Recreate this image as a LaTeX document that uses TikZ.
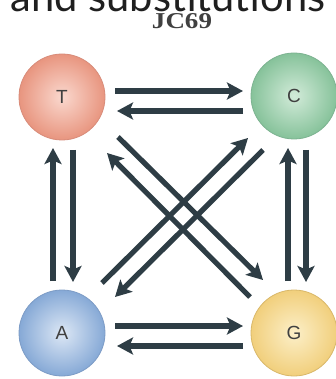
\documentclass[tikz,border=0pt]{standalone}
\usepackage{fontspec}
\setmainfont{Liberation Sans}
\newfontfamily\titlefont{Lato}
\newfontfamily\capfont{Liberation Serif}
\usetikzlibrary{arrows.meta}
\definecolor{arrowc}{HTML}{2E3D45}
\definecolor{tout}{HTML}{E8957F}\definecolor{tin}{HTML}{FAD8CE}\definecolor{tedge}{HTML}{D88C7A}
\definecolor{cout}{HTML}{86C29A}\definecolor{cin}{HTML}{D2EBD9}\definecolor{cedge}{HTML}{7DB391}
\definecolor{aout}{HTML}{86A9D6}\definecolor{ain}{HTML}{DCE7F5}\definecolor{aedge}{HTML}{7D9CC6}
\definecolor{gout}{HTML}{F1CF7C}\definecolor{gin}{HTML}{FCEFC8}\definecolor{gedge}{HTML}{D9B86A}
\begin{document}
\begin{tikzpicture}[x=1pt,y=-1pt,
  base/.style={circle, minimum size=86pt, inner sep=0pt, line width=0.8pt,
    font=\fontsize{19}{21}\selectfont, text=black!75},
  arr/.style={draw=arrowc, line width=5.2pt, -{Stealth[length=16pt,width=17pt,inset=3.5pt]}}]
\useasboundingbox (0,0) rectangle (336,379);
\clip (0,0) rectangle (336,379);
\fill[white] (0,0) rectangle (336,379);
\node[anchor=base, text=black!88, inner sep=0pt] (title) at (168,12)
  {\resizebox{315pt}{!}{\titlefont and substitutions}};
\node[anchor=base, text=black!75, inner sep=0pt] (jc) at (182,29)
  {\resizebox{60pt}{15pt}{\capfont\bfseries JC69}};
\node[base, draw=tedge, inner color=tin, outer color=tout] (T) at (62,97) {T};
\node[base, draw=cedge, inner color=cin, outer color=cout] (C) at (294,96) {C};
\node[base, draw=aedge, inner color=ain, outer color=aout] (A) at (62,333) {A};
\node[base, draw=gedge, inner color=gin, outer color=gout] (G) at (294,333) {G};
% horizontal
\draw[arr] ([shift={(53,-6)}]T.center) -- ([shift={(-51,-5)}]C.center);
\draw[arr] ([shift={(-51,15)}]C.center) -- ([shift={(55,14)}]T.center);
\draw[arr] ([shift={(53,-7)}]A.center) -- ([shift={(-51,-7)}]G.center);
\draw[arr] ([shift={(-51,13)}]G.center) -- ([shift={(55,13)}]A.center);
% vertical
\draw[arr] ([shift={(-9,-52)}]A.center) -- ([shift={(-9,51)}]T.center);
\draw[arr] ([shift={(11,53)}]T.center) -- ([shift={(11,-51)}]A.center);
\draw[arr] ([shift={(-6,-52)}]G.center) -- ([shift={(-6,52)}]C.center);
\draw[arr] ([shift={(12,54)}]C.center) -- ([shift={(12,-51)}]G.center);
% diagonals
\draw[arr] ([shift={(56,40)}]T.center) -- ([shift={(-31,-53)}]G.center);
\draw[arr] ([shift={(-44,-36)}]G.center) -- ([shift={(45,56)}]T.center);
\draw[arr] ([shift={(40,-50)}]A.center) -- ([shift={(-46,42)}]C.center);
\draw[arr] ([shift={(-31,54)}]C.center) -- ([shift={(53,-36)}]A.center);
\end{tikzpicture}
\end{document}
